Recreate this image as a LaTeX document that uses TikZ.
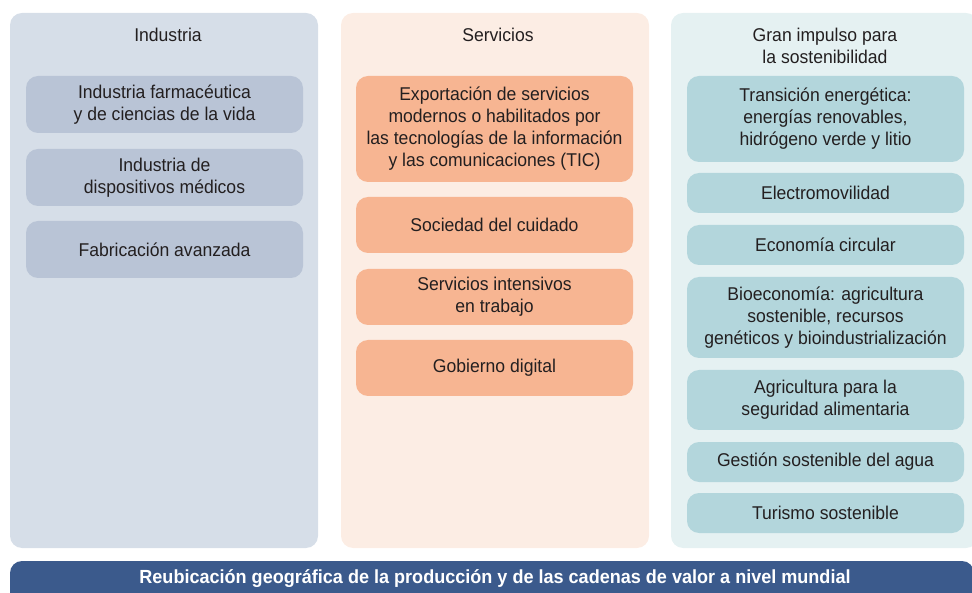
\documentclass[tikz,border=0pt]{standalone}
\usepackage{fontspec}
\setmainfont{Liberation Sans}[FakeStretch=0.95]
\definecolor{indback}{HTML}{D6DEE8}
\definecolor{indbox}{HTML}{B9C4D6}
\definecolor{serback}{HTML}{FCEDE4}
\definecolor{serbox}{HTML}{F7B592}
\definecolor{sosback}{HTML}{E5F1F2}
\definecolor{sosbox}{HTML}{B3D6DC}
\definecolor{barblue}{HTML}{3B5A8C}
\definecolor{ink}{HTML}{231F20}

\begin{document}
\begin{tikzpicture}[x=1pt,y=-1pt,
		panel/.style={rounded corners=12pt,inner sep=0pt},
		head/.style={align=center,text=ink,font=\fontsize{18.5}{22}\selectfont},
		item/.style={rounded corners=12pt,inner sep=0pt,minimum width=277pt,
			align=center,text=ink,font=\fontsize{18.5}{22}\selectfont}]
	\useasboundingbox (0,0) rectangle (972,593);
	\clip (0,0) rectangle (972,593);
	% columns
	\node[panel,fill=indback,minimum width=308pt,minimum height=535pt] (industria) at (164,280.5) {};
	\node[panel,fill=serback,minimum width=308pt,minimum height=535pt] (servicios) at (495,280.5) {};
	\node[panel,fill=sosback,minimum width=307pt,minimum height=535pt] (sosten) at (824.5,280.5) {};
	\node[head] (h-ind) at (168,35) {Industria};
	\node[head] (h-ser) at (498,35) {Servicios};
	\node[head] (h-sos) at (825,46) {Gran impulso para\\la sostenibilidad};
	% industria
	\node[item,fill=indbox,minimum height=57pt] (ind-1) at (164.5,104.5) {Industria farmacéutica\\y de ciencias de la vida};
	\node[item,fill=indbox,minimum height=57pt] (ind-2) at (164.5,177.5) {Industria de\\dispositivos médicos};
	\node[item,fill=indbox,minimum height=57pt] (ind-3) at (164.5,249.5) {Fabricación avanzada};
	% servicios
	\node[item,fill=serbox,minimum height=106pt] (ser-1) at (494.5,129) {Exportación de servicios\\modernos o habilitados por\\las tecnologías de la información\\y las comunicaciones (TIC)};
	\node[item,fill=serbox,minimum height=56pt] (ser-2) at (494.5,225) {Sociedad del cuidado};
	\node[item,fill=serbox,minimum height=56pt] (ser-3) at (494.5,297) {Servicios intensivos\\en trabajo};
	\node[item,fill=serbox,minimum height=56pt] (ser-4) at (494.5,368) {Gobierno digital};
	% sostenibilidad
	\node[item,fill=sosbox,minimum height=86pt] (sos-1) at (825.5,119) {Transición energética:\\energías renovables,\\hidrógeno verde y litio};
	\node[item,fill=sosbox,minimum height=40pt] (sos-2) at (825.5,193) {Electromovilidad};
	\node[item,fill=sosbox,minimum height=40pt] (sos-3) at (825.5,245) {Economía circular};
	\node[item,fill=sosbox,minimum height=81pt] (sos-4) at (825.5,317.5) {Bioeconomía: agricultura\\sostenible, recursos\\genéticos y bioindustrialización};
	\node[item,fill=sosbox,minimum height=60pt] (sos-5) at (825.5,400) {Agricultura para la\\seguridad alimentaria};
	\node[item,fill=sosbox,minimum height=40pt] (sos-6) at (825.5,462) {Gestión sostenible del agua};
	\node[item,fill=sosbox,minimum height=40pt] (sos-7) at (825.5,513) {Turismo sostenible};
	% franja inferior
	\node[panel,fill=barblue,minimum width=964pt,minimum height=44pt] (franja) at (492,583) {};
	\node[text=white,font=\fontsize{19}{22}\selectfont\bfseries] (t-franja) at (495,579) {Reubicación geográfica de la producción y de las cadenas de valor a nivel mundial};
\end{tikzpicture}
\end{document}
